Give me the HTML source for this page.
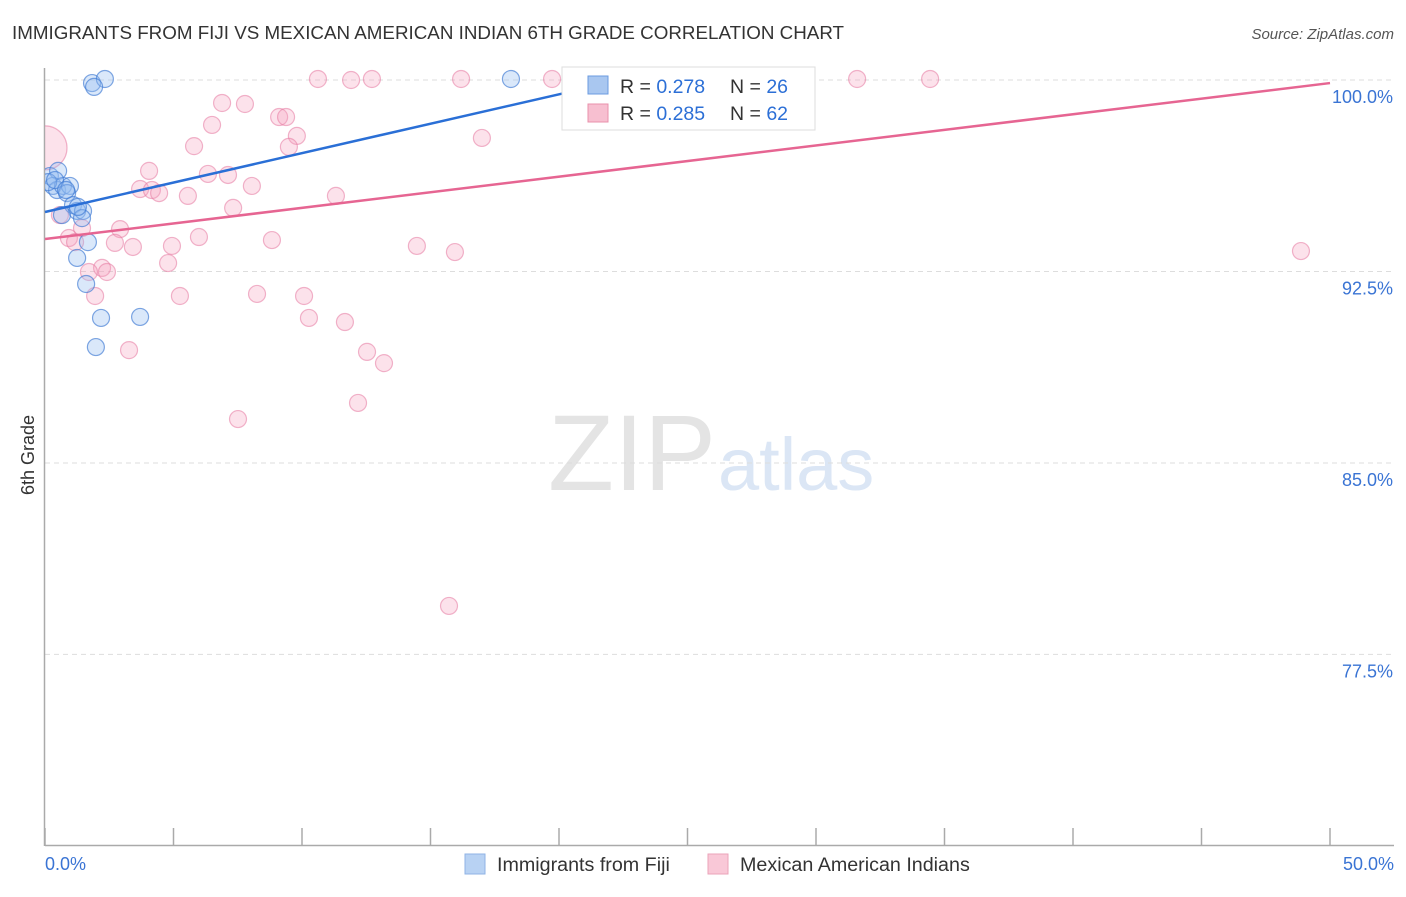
<!DOCTYPE html>
<html><head><meta charset="utf-8">
<style>
body{margin:0;background:#fff;font-family:"Liberation Sans",sans-serif;}
svg text{font-family:"Liberation Sans",sans-serif;}
</style></head>
<body>
<svg id="chart" width="1406" height="892">
<text x="12" y="39" font-size="18.8" fill="#333">IMMIGRANTS FROM FIJI VS MEXICAN AMERICAN INDIAN 6TH GRADE CORRELATION CHART</text>
<text x="1394" y="39" font-size="15" fill="#555" font-style="italic" text-anchor="end">Source: ZipAtlas.com</text>
<text x="716" y="490" font-size="108" fill="#e4e4e4" text-anchor="end" font-family="Liberation Serif">ZIP</text>
<text x="718" y="490" font-size="74" fill="#dbe6f5">atlas</text>
<text transform="translate(34,455) rotate(-90)" font-size="18" fill="#333" text-anchor="middle">6th Grade</text>
<defs><clipPath id="plotclip"><rect x="45" y="60" width="1360" height="790"/></clipPath></defs>
<g id="grid"></g><g id="axes"></g><g id="pts" clip-path="url(#plotclip)"></g><g id="lines"></g>
<g>
<rect x="562" y="67" width="253" height="63" fill="#fff" stroke="#ddd"/>
<rect x="588" y="76" width="20" height="18" fill="#a9c7f0" stroke="#6b9be0"/>
<text x="620" y="93" font-size="19.5" fill="#333">R = <tspan fill="#2c6fd6">0.278</tspan></text>
<text x="730" y="93" font-size="19.5" fill="#333">N = <tspan fill="#2c6fd6">26</tspan></text>
<rect x="588" y="104" width="20" height="18" fill="#f7bfd0" stroke="#e890ab"/>
<text x="620" y="120" font-size="19.5" fill="#333">R = <tspan fill="#2c6fd6">0.285</tspan></text>
<text x="730" y="120" font-size="19.5" fill="#333">N = <tspan fill="#2c6fd6">62</tspan></text>
</g>
<g>
<rect x="465" y="854" width="20" height="20" fill="#b8d2f3" stroke="#8fb3e6"/>
<text x="497" y="871" font-size="19.7" fill="#333">Immigrants from Fiji</text>
<rect x="708" y="854" width="20" height="20" fill="#f9c8d7" stroke="#eba3ba"/>
<text x="740" y="871" font-size="19.7" fill="#333">Mexican American Indians</text>
</g>
</svg>
<script>
const fijiX=[1.83,2.33,1.91,18.13,0.19,0.51,0.31,0.47,0.70,0.97,0.86,1.09,1.25,1.48,1.44,0.66,1.67,1.25,1.60,2.18,3.70,1.98,0.12,0.39,0.82,1.28];
const fijiY=[99.88,100.04,99.73,100.04,96.24,96.44,95.85,95.69,95.85,95.85,95.57,95.10,94.87,94.87,94.59,94.71,93.65,93.03,92.01,90.68,90.72,89.54,96.0,96.08,95.69,95.03];
const mexX=[0,10.62,11.91,12.72,16.19,19.73,26.19,28.60,29.30,31.60,34.44,6.89,7.78,9.11,9.38,9.80,6.50,5.80,9.49,17.00,4.05,6.34,7.12,8.05,3.70,4.16,4.44,5.56,11.32,7.32,0.58,2.92,1.44,0.93,1.17,5.99,2.72,3.42,4.94,8.83,14.47,15.95,48.87,4.79,2.22,1.71,2.41,5.25,8.25,10.08,1.95,10.27,11.67,12.53,3.27,13.19,7.51,12.18,15.72,21.63];
const mexY=[97.34,100.04,100,100.04,100.04,100.04,100.04,100.04,100.04,100.04,100.04,99.10,99.06,98.55,98.55,97.81,98.24,97.41,97.38,97.73,96.44,96.32,96.28,95.85,95.73,95.69,95.57,95.46,95.46,94.99,94.71,94.16,94.20,93.81,93.65,93.85,93.62,93.46,93.50,93.73,93.50,93.26,93.30,92.83,92.64,92.48,92.48,91.54,91.62,91.54,91.54,90.68,90.52,89.35,89.42,88.91,86.72,87.35,79.40,100.04];
const yTicks=[100,92.5,85,77.5];
const yTickLabels=["100.0%","92.5%","85.0%","77.5%"];
const xTickLabels=["0.0%","50.0%"];
const fijiLine=[[0,94.83],[22,99.9]];
const mexLine=[[0,93.77],[50,99.88]];
const X=v=>45+v/50*1285, Y=v=>80+(100-v)*25.53;
const NS="http://www.w3.org/2000/svg";
function mk(t,a,p){const e=document.createElementNS(NS,t);for(const k in a)e.setAttribute(k,a[k]);p.appendChild(e);return e;}
const grid=document.getElementById('grid'),axes=document.getElementById('axes'),pts=document.getElementById('pts'),lines=document.getElementById('lines');
yTicks.forEach((t,i)=>{
 const l=mk('line',{x1:45,x2:1394,y1:Y(t),y2:Y(t),stroke:'#ddd','stroke-dasharray':'5,4'},grid);
 
 
 const tx=mk('text',{x:1393,y:Y(t)+23,'font-size':18,fill:'#3a74d4','text-anchor':'end'},grid);
 tx.textContent=yTickLabels[i];
 
 
});
const ya=mk('line',{x1:44.5,x2:44.5,y1:68,y2:846,stroke:'#aaa','stroke-width':1.5},axes);


const xa=mk('line',{x1:45,x2:1394,y1:845.5,y2:845.5,stroke:'#aaa','stroke-width':1.5},axes);


for(let i=0;i<=10;i++){const tk=mk('line',{x1:X(i*5),x2:X(i*5),y1:828,y2:846,stroke:'#aaa','stroke-width':1.5},axes);
 
 }
[[0,'start',45],[50,'end',1394]].forEach((d,i)=>{const t=mk('text',{x:d[2],y:870,'font-size':18,fill:'#3a74d4','text-anchor':d[1]},axes);t.textContent=xTickLabels[i];
 
 });
mexX.forEach((x,i)=>{const c=mk('circle',{cx:X(x),cy:Y(mexY[i]),r:i===0?22:8.5,fill:'rgba(245,160,190,0.3)',stroke:'rgba(230,120,160,0.55)','stroke-width':1.2},pts);
 
 });
fijiX.forEach((x,i)=>{const c=mk('circle',{cx:X(x),cy:Y(fijiY[i]),r:8.5,fill:'rgba(150,190,240,0.35)',stroke:'rgba(60,120,210,0.65)','stroke-width':1.2},pts);
 
 });
const fl=mk('line',{x1:X(fijiLine[0][0]),y1:Y(fijiLine[0][1]),x2:X(fijiLine[1][0]),y2:Y(fijiLine[1][1]),stroke:'#2a6fd6','stroke-width':2.5},lines);


const ml=mk('line',{x1:X(mexLine[0][0]),y1:Y(mexLine[0][1]),x2:X(mexLine[1][0]),y2:Y(mexLine[1][1]),stroke:'#e66592','stroke-width':2.5},lines);


</script>
</body></html>
